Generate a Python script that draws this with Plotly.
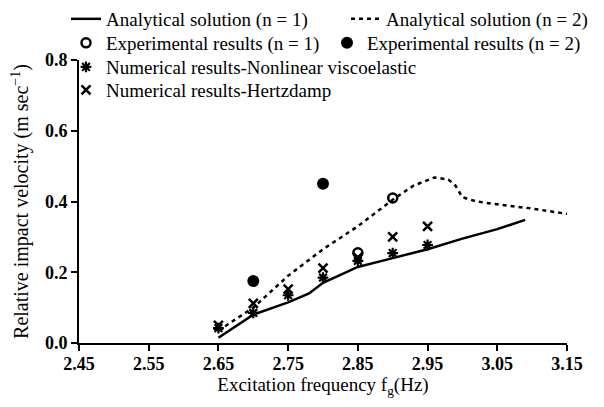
import plotly.graph_objects as go

# Analytical solution (n = 1)
an1_f = [2.65, 2.70, 2.75, 2.78, 2.80, 2.85, 2.90, 2.95, 3.00, 3.05, 3.09]
an1_v = [0.015, 0.080, 0.115, 0.140, 0.170, 0.215, 0.240, 0.265, 0.295, 0.322, 0.348]

# Analytical solution (n = 2)
an2_f = [2.65, 2.70, 2.75, 2.80, 2.85, 2.90, 2.93, 2.96, 2.98, 2.99, 3.00, 3.02, 3.05, 3.10, 3.15]
an2_v = [0.035, 0.100, 0.190, 0.265, 0.330, 0.405, 0.445, 0.468, 0.462, 0.445, 0.412, 0.400, 0.392, 0.380, 0.365]

# Experimental results
exp1_f = [2.85, 2.90]
exp1_v = [0.255, 0.410]
exp2_f = [2.70, 2.80]
exp2_v = [0.175, 0.450]

# Numerical results
nv_f = [2.65, 2.70, 2.75, 2.80, 2.85, 2.90, 2.95]
nv_v = [0.042, 0.085, 0.135, 0.185, 0.232, 0.254, 0.277]
hd_f = [2.65, 2.70, 2.75, 2.80, 2.85, 2.90, 2.95]
hd_v = [0.050, 0.112, 0.152, 0.212, 0.242, 0.300, 0.330]

x_ticks = [2.45, 2.55, 2.65, 2.75, 2.85, 2.95, 3.05, 3.15]
y_ticks = [0.0, 0.2, 0.4, 0.6, 0.8]

FONT = "Liberation Serif"
OFF = 8  # page body margin
L, R, T, B = 79 - OFF, 37 + OFF, 60 - OFF, 64 + OFF
W, H = 604, 407
PW, PH = W - L - R, H - T - B

fig = go.Figure()
fig.add_trace(go.Scatter(x=an1_f, y=an1_v, mode="lines", name="Analytical solution (n = 1)",
                         line=dict(color="black", width=2.5), legend="legend"))
fig.add_trace(go.Scatter(x=an2_f, y=an2_v, mode="lines", name="Analytical solution (n = 2)",
                         line=dict(color="black", width=2.5, dash="4px,4px"), legend="legend2"))
fig.add_trace(go.Scatter(x=exp1_f, y=exp1_v, mode="markers", name="Experimental results (n = 1)",
                         marker=dict(symbol="circle-open", size=9, color="black", line=dict(width=2.5)),
                         legend="legend3"))
fig.add_trace(go.Scatter(x=exp2_f, y=exp2_v, mode="markers", name="Experimental results (n = 2)",
                         marker=dict(symbol="circle", size=12, color="black"), legend="legend4"))
fig.add_trace(go.Scatter(x=nv_f, y=nv_v, mode="markers", name="Numerical results-Nonlinear viscoelastic",
                         marker=dict(symbol="asterisk-open", size=9, color="black", line=dict(width=2.2, color="black")),
                         legend="legend5"))
fig.add_trace(go.Scatter(x=hd_f, y=hd_v, mode="markers", name="Numerical results-Hertzdamp",
                         marker=dict(symbol="x-thin-open", size=9, color="black", line=dict(width=2.5, color="black")),
                         legend="legend6"))

def leg(px, py):
    # px, py: intended on-screen position
    fx, fy = px - OFF, py - OFF
    return dict(x=(fx - L) / PW, y=(H - B - fy) / PH,
                xanchor="left", yanchor="middle", bgcolor="rgba(0,0,0,0)",
                borderwidth=0, font=dict(family=FONT, size=19, color="black"),
                tracegroupgap=0, itemwidth=30)

fig.update_layout(
    width=W, height=H,
    margin=dict(l=L, r=R, t=T, b=B, autoexpand=False),
    paper_bgcolor="white", plot_bgcolor="white",
    font=dict(family=FONT, color="black", size=19),
    showlegend=True,
    legend=leg(66, 19),
    legend2=leg(346, 19),
    legend3=leg(66, 43),
    legend4=leg(327, 43),
    legend5=leg(66, 67),
    legend6=leg(66, 90),
    xaxis=dict(range=[2.45, 3.15], tickvals=x_ticks, ticktext=[f"{v:.2f}" for v in x_ticks],
               showgrid=False, zeroline=False, showline=True, linecolor="black", linewidth=2,
               ticks="outside", ticklen=6, tickwidth=2, tickcolor="black", ticklabelstandoff=-3,
               tickfont=dict(family=FONT, size=18, color="black", weight="bold"),
               title=dict(text="Excitation frequency f<sub>g</sub>(Hz)", standoff=0,
                          font=dict(family=FONT, size=19, color="black"))),
    yaxis=dict(range=[0, 0.8], tickvals=y_ticks, ticktext=[f"{v:.1f}" for v in y_ticks],
               showgrid=False, zeroline=False, showline=True, linecolor="black", linewidth=2,
               ticks="outside", ticklen=6, tickwidth=2, tickcolor="black",
               tickfont=dict(family=FONT, size=18, color="black", weight="bold"),
               title=dict(text="Relative impact velocity (m sec<sup>−1</sup>)",
                          font=dict(family=FONT, size=20, color="black"))),
)

fig.write_html("out.html")
